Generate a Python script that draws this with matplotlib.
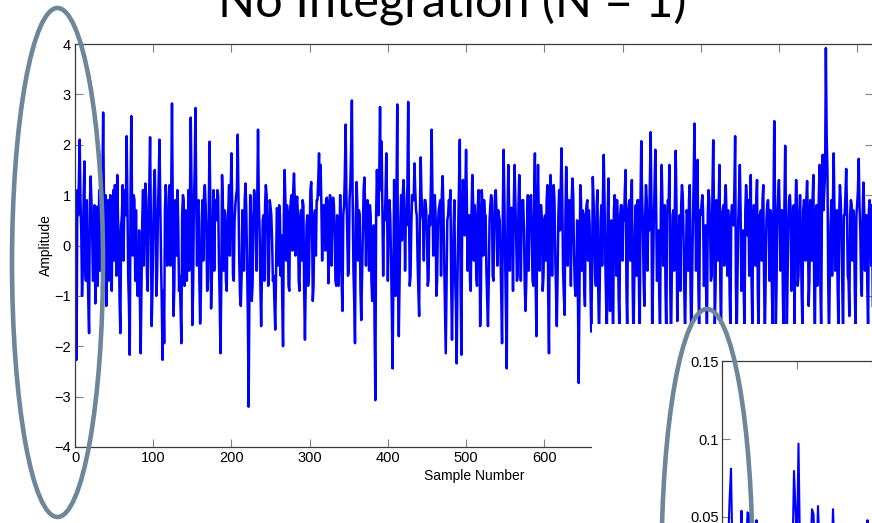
import numpy as np
import matplotlib
matplotlib.use("Agg")
import matplotlib.pyplot as plt
from matplotlib.patches import Ellipse, Rectangle

# ---------------- data ----------------
title_text = "No Integration (N = 1)"
x_label = "Sample Number"
y_label = "Amplitude"
amplitude = [
    -0.5, -1.2, -2.27, 1.1, 0.6, 1.3, 2.1, 0.9, 0.3, -1.0, -0.4, 0.9, 1.67, -0.5, -0.7, 0.9, -0.2, -1.1, -1.74, 0.8,
    1.37, 0.9, 0.2, -0.7, -0.6, 0.8, -1.15, -0.6, 0.77, -0.8, 0.1, 1.1, -0.5, 0.8, 0.4, 1.2, 2.64, 0.9, -0.3, 1.0,
    -1.2, 0.6, 0.9, -0.7, -0.55, 1.0, 0.3, -0.9, 0.8, 1.1, -0.3, 1.2, 0.6, -0.6, 1.4, 0.5, 0.2, -1.1, -1.74, 0.4,
    0.6, 1.2, -0.3, 0.8, 1.1, 0.6, 2.17, 0.9, -0.6, -1.2, -2.17, 1.0, 2.57, 0.6, -0.2, 1.0, 0.9, -0.7, 0.7, -0.6,
    -1.0, -0.6, 0.3, -1.1, -2.14, -0.8, 0.5, 1.1, -0.4, 0.8, 1.23, 0.9, -0.6, -0.9, 0.4, 1.2, 2.15, 0.5, -1.6, -0.9,
    0.2, 1.1, 1.5, 0.6, -1.0, -0.6, 0.6, 1.3, 2.1, 0.9, -0.3, -1.2, -2.27, -0.9, -1.94, 0.7, 1.2, 0.9, -0.4, 0.7,
    0.5, 1.2, -0.4, 1.0, 2.82, 0.8, -1.4, -0.8, 0.9, 0.7, -0.2, 1.1, 0.4, -0.9, -0.6, -1.3, -1.94, 0.6, 1.0, 0.9,
    -0.8, 0.7, 0.6, -0.7, 0.1, 1.1, -0.5, 0.9, 2.54, 1.1, -1.58, -0.9, 0.8, 1.5, 2.73, 1.0, -0.4, 0.8, 0.9, -0.7,
    -1.55, -0.9, 0.5, 0.9, -0.3, 1.0, 1.2, 0.8, 0.2, -0.9, -0.7, 0.7, 2.06, 0.9, -1.25, -0.6, 0.3, 1.1, -0.5, 0.9,
    0.9, 0.5, 1.1, 1.0, -0.3, -1.1, -2.14, -0.8, 1.4, 0.9, -0.5, 0.7, 0.4, -0.7, -0.9, 0.6, 0.7, 1.2, -0.2, 1.0,
    1.83, 0.8, -0.6, -0.7, 0.5, 0.8, 1.0, 1.1, 2.2, 0.9, -0.3, -1.0, -1.2, -0.6, 0.7, 0.6, -0.5, 0.9, 1.23, 0.7,
    -0.4, -1.4, -3.2, -0.9, 1.0, 0.6, -1.1, -0.8, 0.4, 1.1, 0.9, 0.5, -0.5, 1.0, 2.3, 0.9, 0.3, -0.8, -1.6, -0.6,
    0.5, 0.6, -0.7, 0.8, 1.2, 1.0, 0.2, -0.8, -0.5, 0.9, 0.77, 0.6, 0.1, -0.7, -0.6, -1.1, -1.67, -0.6, 0.74, 0.7,
    -0.4, 0.8, 0.6, -0.6, 0.2, -1.1, -2.0, 0.6, 1.5, 0.9, -0.3, 0.8, 0.6, -0.8, -0.9, 0.7, 0.9, 1.0, -0.1, 1.1,
    1.43, 0.9, -0.2, 0.8, 0.97, 0.6, -0.7, -0.9, 0.5, 0.7, -0.3, 0.9, 0.8, -0.9, -1.87, -0.8, 0.4, 0.6, -0.8, -0.6,
    0.3, 1.1, 1.26, 0.6, -1.1, -0.8, 0.6, 0.7, -0.2, 0.9, 0.9, 1.3, 1.83, 1.0, 1.6, 0.8, -0.3, 0.7, 0.8, 0.5,
    -0.1, 0.9, 0.95, 0.5, -0.75, 0.8, 1.0, 0.9, -0.4, 0.7, 0.95, 0.8, 0.2, -0.7, -0.8, 0.6, 0.5, -0.8, -0.2, 1.0,
    0.3, -0.8, -1.3, 0.6, 0.8, 1.4, 2.4, 1.0, 0.3, -0.6, -0.5, 0.9, 1.2, 1.9, 2.88, 0.9, -0.5, -1.1, -1.94, 0.6,
    1.26, 0.8, -0.3, 0.7, 0.6, -0.9, -1.48, -0.6, 0.3, 1.1, 1.35, 0.7, -0.4, 0.6, 0.9, 0.5, -0.5, 0.8, 0.6, -0.7,
    -1.1, -0.7, 0.4, -1.6, -3.07, 0.6, 1.5, 0.9, 0.6, 1.4, 2.75, 1.1, 2.06, 0.7, -0.6, 0.6, 0.5, 1.0, 1.83, 0.8,
    -0.7, 0.7, 0.9, 0.6, -0.2, -1.2, -2.44, -0.8, 1.3, 0.6, -1.0, 0.9, 2.8, -0.8, -1.8, -0.6, 0.5, 1.0, 0.1, 1.0,
    1.3, 0.9, -0.5, 0.6, 0.4, 1.2, 2.85, 0.8, -0.8, -0.6, 0.4, 1.0, 0.9, 0.9, 1.63, 1.1, 0.7, 0.6, -0.3, -0.9,
    -1.4, 0.7, 1.75, 1.0, 0.6, 0.5, -0.3, 0.9, 0.9, 0.7, 0.2, -0.8, -0.7, 0.6, 0.4, 1.2, 2.3, 1.0, -0.2, 0.8,
    1.0, 0.6, -1.0, -0.7, 0.4, 0.7, 0.8, 0.9, -0.6, 1.0, 1.38, 0.8, -0.3, -1.2, -2.14, -0.9, 0.5, 0.6, 0.9, 0.8,
    1.1, -0.8, -1.87, -0.6, 0.3, 0.9, -0.6, -1.2, -2.34, -0.7, 0.4, 1.3, 2.1, -0.8, -2.17, 0.6, 1.3, 0.9, 0.2, 1.0,
    1.9, 0.9, -0.5, 0.6, 0.6, -0.7, -0.9, 0.7, 1.4, 0.9, -0.3, 0.8, 0.5, -0.6, -0.8, 0.8, 1.1, 0.6, -1.6, -0.9,
    1.1, 0.8, -0.2, 0.9, 0.6, 0.6, -0.5, -1.1, -1.6, -0.7, 0.5, 0.8, 1.0, 0.9, -0.6, -0.7, 0.3, 1.0, 1.1, 0.6,
    -0.4, 0.7, 0.6, 0.5, -0.2, -1.0, -1.94, 0.7, 1.9, 0.9, -0.3, -1.3, -2.44, 0.6, 1.6, 0.8, -0.5, 0.7, 0.75, 0.5,
    -0.9, 0.8, 1.6, 0.9, 0.2, -0.7, -0.6, 0.8, 1.4, 0.7, -0.7, 0.6, 0.9, 0.9, 0.3, -0.8, -1.3, -0.7, 0.4, 1.0,
    -0.5, 0.7, 0.9, 1.0, 0.2, -0.7, -0.8, 0.9, 1.83, -0.8, -1.8, 0.7, 1.6, 0.6, -0.5, 0.8, 0.8, 0.5, -0.9, -0.6,
    0.5, 0.6, -0.3, 0.9, 1.2, -1.0, -2.14, 0.6, 1.4, 0.9, -0.6, 0.8, 1.2, 0.9, -0.2, -0.9, -1.6, -0.6, 0.6, 1.1,
    0.3, 1.1, 1.93, 0.9, -0.5, -1.0, -1.38, 0.6, 1.56, 0.9, -0.4, 0.8, 0.9, 0.6, -0.8, 0.9, 1.33, 1.0, -0.2, -0.8,
    -1.0, -0.6, 0.5, -1.0, -2.73, -0.9, 1.2, 0.9, -0.5, 0.7, 0.6, -0.8, -1.2, 0.6, 0.8, 0.9, -0.3, 0.7, 0.4, -0.8,
    -1.71, -0.7, 1.36, 0.9, 0.2, -0.6, -0.8, 0.8, 1.1, -0.9, -1.8, -0.7, 0.5, 0.8, -0.4, 1.0, 1.8, 0.9, -0.3, -1.1,
    -1.9, 0.6, 1.33, -0.7, -1.3, -0.6, 0.5, -0.9, -1.9, 0.7, 1.0, 0.8, -0.6, 0.9, 0.3, -1.0, -1.7, 0.6, 0.8, 0.8,
    -0.3, 0.7, 0.5, 1.1, 1.5, -0.8, -1.7, 0.6, 0.8, 0.9, -0.3, 1.0, 1.3, -0.8, -1.9, -0.7, 0.4, 0.8, -0.6, 0.9,
    0.9, -0.8, -1.9, 0.9, 2.07, 1.0, 0.4, -0.7, -1.2, 0.6, 1.2, 0.9, -0.5, 0.7, 0.3, 1.3, 2.25, 0.8, -1.8, -0.6,
    0.5, 1.2, 1.9, 0.8, -0.7, -0.6, 0.3, -1.0, -1.7, 0.7, 1.6, 0.9, -0.4, 0.6, 0.8, -0.9, -1.8, 0.6, 0.9, 0.8,
    1.6, -0.7, -2.0, -0.6, 0.6, 0.7, -0.5, 0.9, 1.88, 0.8, -1.5, -0.7, 0.3, 0.6, -0.9, 0.8, 1.2, 1.0, 0.2, -0.9,
    -1.8, -0.6, 0.7, 0.6, -0.5, 0.9, 1.2, -0.9, -1.9, -0.7, 0.5, 1.3, 2.42, 0.9, -0.5, 1.0, 1.7, -0.8, -1.7, 0.7,
    0.6, 0.8, 1.0, 0.7, -0.8, -0.7, 0.4, -1.0, -1.8, 0.6, 1.1, 0.9, 0.3, -0.7, -0.6, 1.1, 2.09, 0.6, -1.6, -0.8,
    0.9, 0.7, -0.3, 0.9, 1.6, -0.7, -1.9, 0.6, 0.7, 0.8, -0.4, 0.9, 1.2, 0.6, -0.6, 0.7, 0.3, -1.0, -1.7, 0.6,
    0.8, 0.6, 0.4, 1.1, 2.17, -0.8, -1.8, -0.7, 0.5, 1.0, 1.6, 0.7, -0.9, -0.7, 0.3, -0.9, -1.7, 0.7, 1.2, 0.9,
    0.2, 0.9, -0.6, 0.7, 1.4, -0.7, -1.6, 0.6, 0.8, 0.7, -0.4, 0.9, 1.3, -0.9, -1.9, 0.6, 0.6, 0.7, -0.3, 0.9,
    1.2, -0.7, -1.8, -0.6, 0.5, 0.8, 0.9, 0.6, -0.7, 0.7, 0.6, -0.9, -1.6, 0.7, 2.47, 0.8, -1.7, -0.7, 0.6, 1.0,
    1.3, 0.6, -0.5, 0.7, 0.7, -0.9, -1.9, 0.8, 1.98, 0.6, -1.8, -0.7, 0.4, 0.9, 1.0, 0.7, -0.9, -0.6, 0.6, 0.8,
    -1.7, 0.6, 1.3, 0.8, -0.8, -0.6, 0.5, 1.0, 0.2, -0.9, -1.6, 0.7, 0.9, 0.8, -0.3, 0.9, 1.28, 0.6, -1.2, -0.7,
    0.9, 0.8, -0.3, 0.9, 1.4, -0.7, -1.8, 0.6, 0.8, -0.8, 0.3, 1.0, 1.6, -0.8, -1.7, 0.9, 1.8, 0.7, 1.1, 1.4,
    3.92, 2.2, 1.5, -0.7, -1.9, -0.6, 0.4, 0.9, -0.6, 0.8, 1.83, 0.7, -0.5, 0.6, 0.7, -0.8, -1.6, 0.6, 1.2, 0.9,
    0.2, -0.8, -1.8, 0.6, 0.6, 1.0, 1.52, 0.7, -0.6, -0.7, -1.4, 0.6, 0.9, 0.8, -0.3, 0.7, 0.5, -0.9, -1.7, 0.6,
    0.8, 1.1, 1.72, 0.8, 0.3, -0.7, -1.0, 0.6, 1.25, 0.7, -0.5, 0.6, 0.6, -0.8, -1.7, 0.7, 0.9, 0.6, -0.4, 0.8,
    -1.2,
]
sample_number = np.arange(len(amplitude))
x_ticks = list(range(0, 1001, 100))
y_ticks = list(range(-4, 5))

# inset spectrum (bin index -> magnitude)
inset_values = [
    0.030, 0.022, 0.035, 0.018, 0.028, 0.060, 0.081, 0.025, 0.032, 0.020,
    0.027, 0.019, 0.030, 0.054, 0.022, 0.031, 0.024, 0.053, 0.052, 0.026,
    0.020, 0.033, 0.021, 0.048, 0.025, 0.018, 0.030, 0.022, 0.034, 0.020,
    0.026, 0.031, 0.019, 0.027, 0.023, 0.035, 0.021, 0.028, 0.018, 0.030,
    0.024, 0.033, 0.020, 0.026, 0.029, 0.019, 0.032, 0.025, 0.0795, 0.055,
    0.030, 0.097, 0.028, 0.022, 0.031, 0.019, 0.027, 0.034, 0.021, 0.026,
    0.055, 0.052, 0.025, 0.020, 0.057, 0.030, 0.023, 0.018, 0.032, 0.026,
    0.021, 0.029, 0.024, 0.019, 0.055, 0.027, 0.022, 0.033, 0.020, 0.028,
    0.025, 0.031, 0.018, 0.026, 0.034, 0.022, 0.029, 0.020, 0.032, 0.024,
    0.027, 0.019, 0.030, 0.023, 0.035, 0.021, 0.026, 0.048, 0.028, 0.020,
    0.031,
]
inset_bins = np.arange(len(inset_values))
inset_yticks = [0.0, 0.05, 0.1, 0.15]
inset_yticklabels = ["0", "0.05", "0.1", "0.15"]
inset_xticks = [0, 50, 100, 150, 200]

# ---------------- figure ----------------
W, H = 872, 523
fig = plt.figure(figsize=(W / 100, H / 100), dpi=100)
fig.patch.set_facecolor("white")

def px_rect(left, top, right, bottom):
    return [left / W, 1 - bottom / H, (right - left) / W, (bottom - top) / H]

tick_family = ["Liberation Sans", "DejaVu Sans"]
tick_size = 10.5
spine_col = "#3a3a3a"

ax = fig.add_axes(px_rect(75, 44, 872.8, 447))
ax.plot(sample_number, amplitude, color="#0000FF", lw=1.8)
ax.set_xlim(0, 1020)
ax.set_ylim(-4, 4)
ax.set_xticks(x_ticks)
ax.set_yticks(y_ticks)
ax.tick_params(direction="in", top=True, right=True, length=5.5, width=0.8,
               color="#808080", labelcolor="black", pad=3)
for lab in ax.get_xticklabels() + ax.get_yticklabels():
    lab.set_fontfamily(tick_family)
    lab.set_fontsize(tick_size)
for sp in ax.spines.values():
    sp.set_color(spine_col)
    sp.set_linewidth(0.9)
ax.set_xlabel(x_label, fontsize=10, family=tick_family, labelpad=3)
ax.set_ylabel(y_label, fontsize=10, family=tick_family, labelpad=1)

# white panel of the pasted inset picture
fig.add_artist(Rectangle((592 / W, 0), 1 - 592 / W, (H - 324) / H,
                         transform=fig.transFigure, facecolor="white",
                         edgecolor="none", zorder=1))

axi = fig.add_axes(px_rect(722, 361, 1022, 595))
axi.set_zorder(2)
axi.plot(inset_bins, inset_values, color="#0000FF", lw=1.5)
axi.set_xlim(0, 200)
axi.set_ylim(0, 0.15)
axi.set_yticks(inset_yticks)
axi.set_yticklabels(inset_yticklabels)
axi.set_xticks(inset_xticks)
axi.tick_params(direction="in", top=True, right=True, labelbottom=False,
                length=5.5, width=0.8, color="#808080", pad=2)
for lab in axi.get_yticklabels():
    lab.set_fontfamily(tick_family)
    lab.set_fontsize(tick_size)
for sp in axi.spines.values():
    sp.set_color(spine_col)
    sp.set_linewidth(0.9)

# title (cropped at the top in the reference)
fig.text(452 / W, 1 - 18 / H, title_text, ha="center", va="baseline",
         fontsize=35, family=["Lato", "DejaVu Sans"], color="black", zorder=3)

# highlight ellipses
ell_col = "#6E869A"
for cx, cy in [(57.5, 262.5), (707, 563.5)]:
    e = Ellipse((cx / 100, (H - cy) / 100), 91 / 100, 509 / 100,
                transform=fig.dpi_scale_trans, facecolor="none",
                edgecolor=ell_col, lw=3.3, zorder=4)
    fig.add_artist(e)

fig.savefig("out.png", dpi=100)
